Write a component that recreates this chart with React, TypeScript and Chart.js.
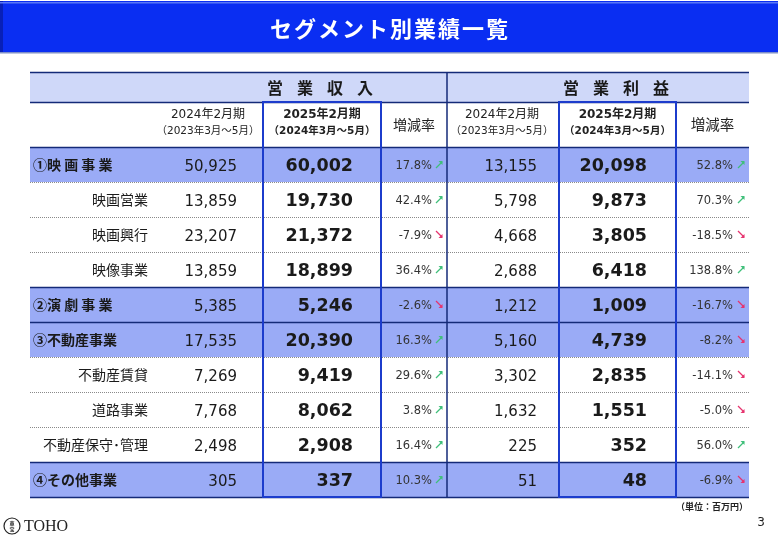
import React, { useEffect, useRef } from 'react';
import { Chart, registerables } from 'chart.js';
Chart.register(...registerables);

// ---- data ----
const pageTitle = 'セグメント別業績一覧';
const groupHeaders = ['営業収入', '営業利益'];
const periodLabels = ['2024年2月期', '2025年2月期'];
const periodRanges = ['（2023年3月～5月）', '（2024年3月～5月）'];
const rateLabel = '増減率';
const segments = ['①映 画 事 業', '映画営業', '映画興行', '映像事業', '②演 劇 事 業', '③不動産事業', '不動産賃貸', '道路事業', '不動産保守･管理', '④その他事業'];
const isMain = [true, false, false, false, true, true, false, false, false, true];
const rev2024 = [50925, 13859, 23207, 13859, 5385, 17535, 7269, 7768, 2498, 305];
const rev2025 = [60002, 19730, 21372, 18899, 5246, 20390, 9419, 8062, 2908, 337];
const revRate = [17.8, 42.4, -7.9, 36.4, -2.6, 16.3, 29.6, 3.8, 16.4, 10.3];
const op2024 = [13155, 5798, 4668, 2688, 1212, 5160, 3302, 1632, 225, 51];
const op2025 = [20098, 9873, 3805, 6418, 1009, 4739, 2835, 1551, 352, 48];
const opRate = [52.8, 70.3, -18.5, 138.8, -16.7, -8.2, -14.1, -5.0, 56.0, -6.9];
const unitNote = '（単位：百万円）';
const pageNo = '3';
const brand = 'TOHO';

// ---- layout (scale units) ----
const TABLE_W = 719;
const TABLE_H = 425;
const HEAD1 = 30;
const HEAD2 = 75;
const ROW_H = 35;
const COL = { rev25L: 233, rev25R: 351, revRateR: 417, op25L: 529, op25R: 646 };

const fmt = (v: number) => v.toLocaleString('en-US');
const pct = (v: number) => v.toFixed(1) + '%';

const NUM = '"DejaVu Sans", "Noto Sans CJK JP", sans-serif';
const JP = '"Noto Sans CJK JP", "DejaVu Sans", sans-serif';

const tablePlugin = {
  id: 'tablePlugin',
  afterDraw(chart: any) {
    const ctx: CanvasRenderingContext2D = chart.ctx;
    const xs = chart.scales.x;
    const ys = chart.scales.y;
    const X = (u: number) => xs.getPixelForValue(u);
    const Y = (u: number) => ys.getPixelForValue(u);
    const W = chart.width;
    ctx.save();

    // banner
    ctx.fillStyle = '#0a2ef2';
    ctx.fillRect(0, 1, W - 2, 52);
    ctx.fillStyle = '#0820b8';
    ctx.fillRect(0, 1, 3, 52);
    ctx.fillStyle = '#5a78f6';
    ctx.fillRect(0, 2, W - 2, 1.5);
    ctx.fillStyle = '#7f8fc8';
    ctx.fillRect(0, 52, W - 2, 1.5);
    ctx.fillStyle = '#ffffff';
    ctx.font = `bold 22px ${JP}`;
    (ctx as any).letterSpacing = '2px';
    ctx.textAlign = 'center';
    ctx.textBaseline = 'middle';
    ctx.fillText(pageTitle, W / 2, 29);
    (ctx as any).letterSpacing = '0px';

    // fills
    ctx.fillStyle = '#cfd8f9';
    ctx.fillRect(X(0), Y(0), X(TABLE_W) - X(0), Y(HEAD1) - Y(0));
    segments.forEach((_, i) => {
      if (!isMain[i]) return;
      const t = HEAD2 + i * ROW_H;
      ctx.fillStyle = '#9aabf6';
      ctx.fillRect(X(0), Y(t), X(TABLE_W) - X(0), Y(t + ROW_H) - Y(t));
    });

    // horizontal lines
    const hline = (u: number, solid: boolean) => {
      ctx.beginPath();
      if (solid) {
        ctx.setLineDash([]);
        ctx.strokeStyle = '#142a78';
        ctx.lineWidth = 1.5;
      } else {
        ctx.setLineDash([1, 1]);
        ctx.strokeStyle = '#8a8a8a';
        ctx.lineWidth = 1;
      }
      const y = Math.round(Y(u)) + 0.5;
      ctx.moveTo(X(0), y);
      ctx.lineTo(X(TABLE_W), y);
      ctx.stroke();
    };
    hline(0, true);
    hline(HEAD1, true);
    hline(HEAD2, true);
    for (let i = 1; i < segments.length; i++) {
      hline(HEAD2 + i * ROW_H, isMain[i]);
    }
    hline(TABLE_H, true);
    ctx.setLineDash([]);

    // vertical lines
    const vline = (u: number, top: number, color: string, w: number) => {
      ctx.beginPath();
      ctx.strokeStyle = color;
      ctx.lineWidth = w;
      ctx.moveTo(X(u), Y(top));
      ctx.lineTo(X(u), Y(TABLE_H));
      ctx.stroke();
    };
    vline(COL.revRateR, 0, '#142a78', 1.5);
    const box = (l: number, r: number) => {
      ctx.strokeStyle = '#1c3ccc';
      ctx.lineWidth = 2;
      ctx.strokeRect(X(l), Y(HEAD1), X(r) - X(l), Y(TABLE_H) - Y(HEAD1));
    };
    box(COL.rev25L, COL.rev25R);
    box(COL.op25L, COL.op25R);

    // header row 1
    ctx.fillStyle = '#1a1a1a';
    ctx.font = `bold 16px ${JP}`;
    ctx.textAlign = 'center';
    const spaced = (s: string, cx: number, cy: number) => {
      const chars = Array.from(s);
      const pitch = 30;
      const start = cx - ((chars.length - 1) * pitch) / 2;
      chars.forEach((c, k) => ctx.fillText(c, start + k * pitch, cy));
    };
    spaced(groupHeaders[0], X(290), Y(HEAD1 / 2) + 1);
    spaced(groupHeaders[1], X(586), Y(HEAD1 / 2) + 1);

    // header row 2
    const h2 = (cx: number, bold: boolean, idx: number) => {
      ctx.fillStyle = '#222';
      ctx.font = `${bold ? 'bold ' : ''}12px ${NUM}`;
      ctx.fillText(periodLabels[idx], X(cx), Y(HEAD1 + 13));
      ctx.font = `${bold ? 'bold ' : ''}10.5px ${NUM}`;
      ctx.fillText(periodRanges[idx], X(cx), Y(HEAD1 + 29));
    };
    h2(178, false, 0);
    h2((COL.rev25L + COL.rev25R) / 2, true, 1);
    h2((COL.revRateR + COL.op25L) / 2 - 1, false, 0);
    h2((COL.op25L + COL.op25R) / 2, true, 1);
    ctx.font = `14px ${JP}`;
    ctx.fillText(rateLabel, X((COL.rev25R + COL.revRateR) / 2), Y((HEAD1 + HEAD2) / 2));
    ctx.font = `14.5px ${JP}`;
    ctx.fillText(rateLabel, X((COL.op25R + TABLE_W) / 2), Y((HEAD1 + HEAD2) / 2));

    // data rows
    const arrow = (v: number, x: number, y: number) => {
      ctx.save();
      ctx.strokeStyle = v >= 0 ? '#3fbf7a' : '#e6336e';
      ctx.fillStyle = ctx.strokeStyle;
      ctx.lineWidth = 1.3;
      ctx.beginPath();
      if (v >= 0) {
        ctx.moveTo(x, y + 3.5);
        ctx.lineTo(x + 6, y - 2.5);
        ctx.stroke();
        ctx.beginPath();
        ctx.moveTo(x + 6.5, y - 3.5);
        ctx.lineTo(x + 2.5, y - 3.5);
        ctx.lineTo(x + 6.5, y + 0.5);
        ctx.closePath();
        ctx.fill();
      } else {
        ctx.moveTo(x, y - 3.5);
        ctx.lineTo(x + 6, y + 2.5);
        ctx.stroke();
        ctx.beginPath();
        ctx.moveTo(x + 6.5, y + 3.5);
        ctx.lineTo(x + 2.5, y + 3.5);
        ctx.lineTo(x + 6.5, y - 0.5);
        ctx.closePath();
        ctx.fill();
      }
      ctx.restore();
    };
    segments.forEach((name, i) => {
      const cy = Y(HEAD2 + i * ROW_H + ROW_H / 2);
      ctx.textBaseline = 'alphabetic';
      ctx.fillStyle = '#1a1a1a';
      if (isMain[i]) {
        ctx.textAlign = 'left';
        ctx.font = `bold 14px ${JP}`;
        ctx.fillText(name, X(3), cy + 5);
      } else {
        ctx.textAlign = 'right';
        ctx.font = `14px ${JP}`;
        ctx.fillText(name, X(118), cy + 5);
      }
      ctx.textAlign = 'right';
      ctx.font = `15px ${NUM}`;
      ctx.fillText(fmt(rev2024[i]), X(207), cy + 6);
      ctx.fillText(fmt(op2024[i]), X(507), cy + 6);
      ctx.font = `bold 17.5px ${NUM}`;
      ctx.fillText(fmt(rev2025[i]), X(323), cy + 6.5);
      ctx.fillText(fmt(op2025[i]), X(617), cy + 6.5);
      ctx.font = `11.5px ${NUM}`;
      ctx.fillStyle = '#333';
      ctx.fillText(pct(revRate[i]), X(402), cy + 4.5);
      ctx.fillText(pct(opRate[i]), X(703), cy + 4.5);
      arrow(revRate[i], X(406), cy);
      arrow(opRate[i], X(708), cy);
    });
    ctx.textBaseline = 'middle';

    // footer
    ctx.fillStyle = '#222';
    ctx.textAlign = 'right';
    ctx.font = `bold 9px ${JP}`;
    ctx.fillText(unitNote, X(TABLE_W) - 1, Y(TABLE_H) + 10);
    ctx.font = `12px ${NUM}`;
    ctx.fillText(pageNo, 765, 523);

    // logo
    ctx.strokeStyle = '#222';
    ctx.lineWidth = 1.2;
    ctx.beginPath();
    ctx.arc(12, 526, 8, 0, Math.PI * 2);
    ctx.stroke();
    ctx.textAlign = 'center';
    ctx.font = `bold 5px ${JP}`;
    ctx.fillText('東', 12, 523);
    ctx.fillText('宝', 12, 529);
    ctx.textAlign = 'left';
    ctx.font = `16px "Liberation Serif", serif`;
    ctx.fillText(brand, 24, 527);

    ctx.restore();
  },
};

export default function App() {
  const ref = useRef<HTMLCanvasElement | null>(null);
  useEffect(() => {
    document.body.style.margin = '0';
    const canvas = ref.current!;
    const chart = new Chart(canvas, {
      type: 'scatter',
      data: { datasets: [{ data: [], pointRadius: 0 }] },
      options: {
        animation: false,
        responsive: false,
        devicePixelRatio: 1,
        layout: { padding: { left: 30, right: 31, top: 72, bottom: 43 } },
        plugins: { legend: { display: false }, tooltip: { enabled: false }, title: { display: false } },
        scales: {
          x: { type: 'linear', min: 0, max: TABLE_W, display: false },
          y: { type: 'linear', min: 0, max: TABLE_H, reverse: true, display: false },
        },
      },
      plugins: [tablePlugin],
    });
    return () => chart.destroy();
  }, []);
  return (
    <div style={{ position: 'fixed', left: 0, top: 0, width: 780, height: 540, background: '#fff' }}>
      <canvas ref={ref} width={780} height={540} style={{ display: 'block' }} />
    </div>
  );
}
